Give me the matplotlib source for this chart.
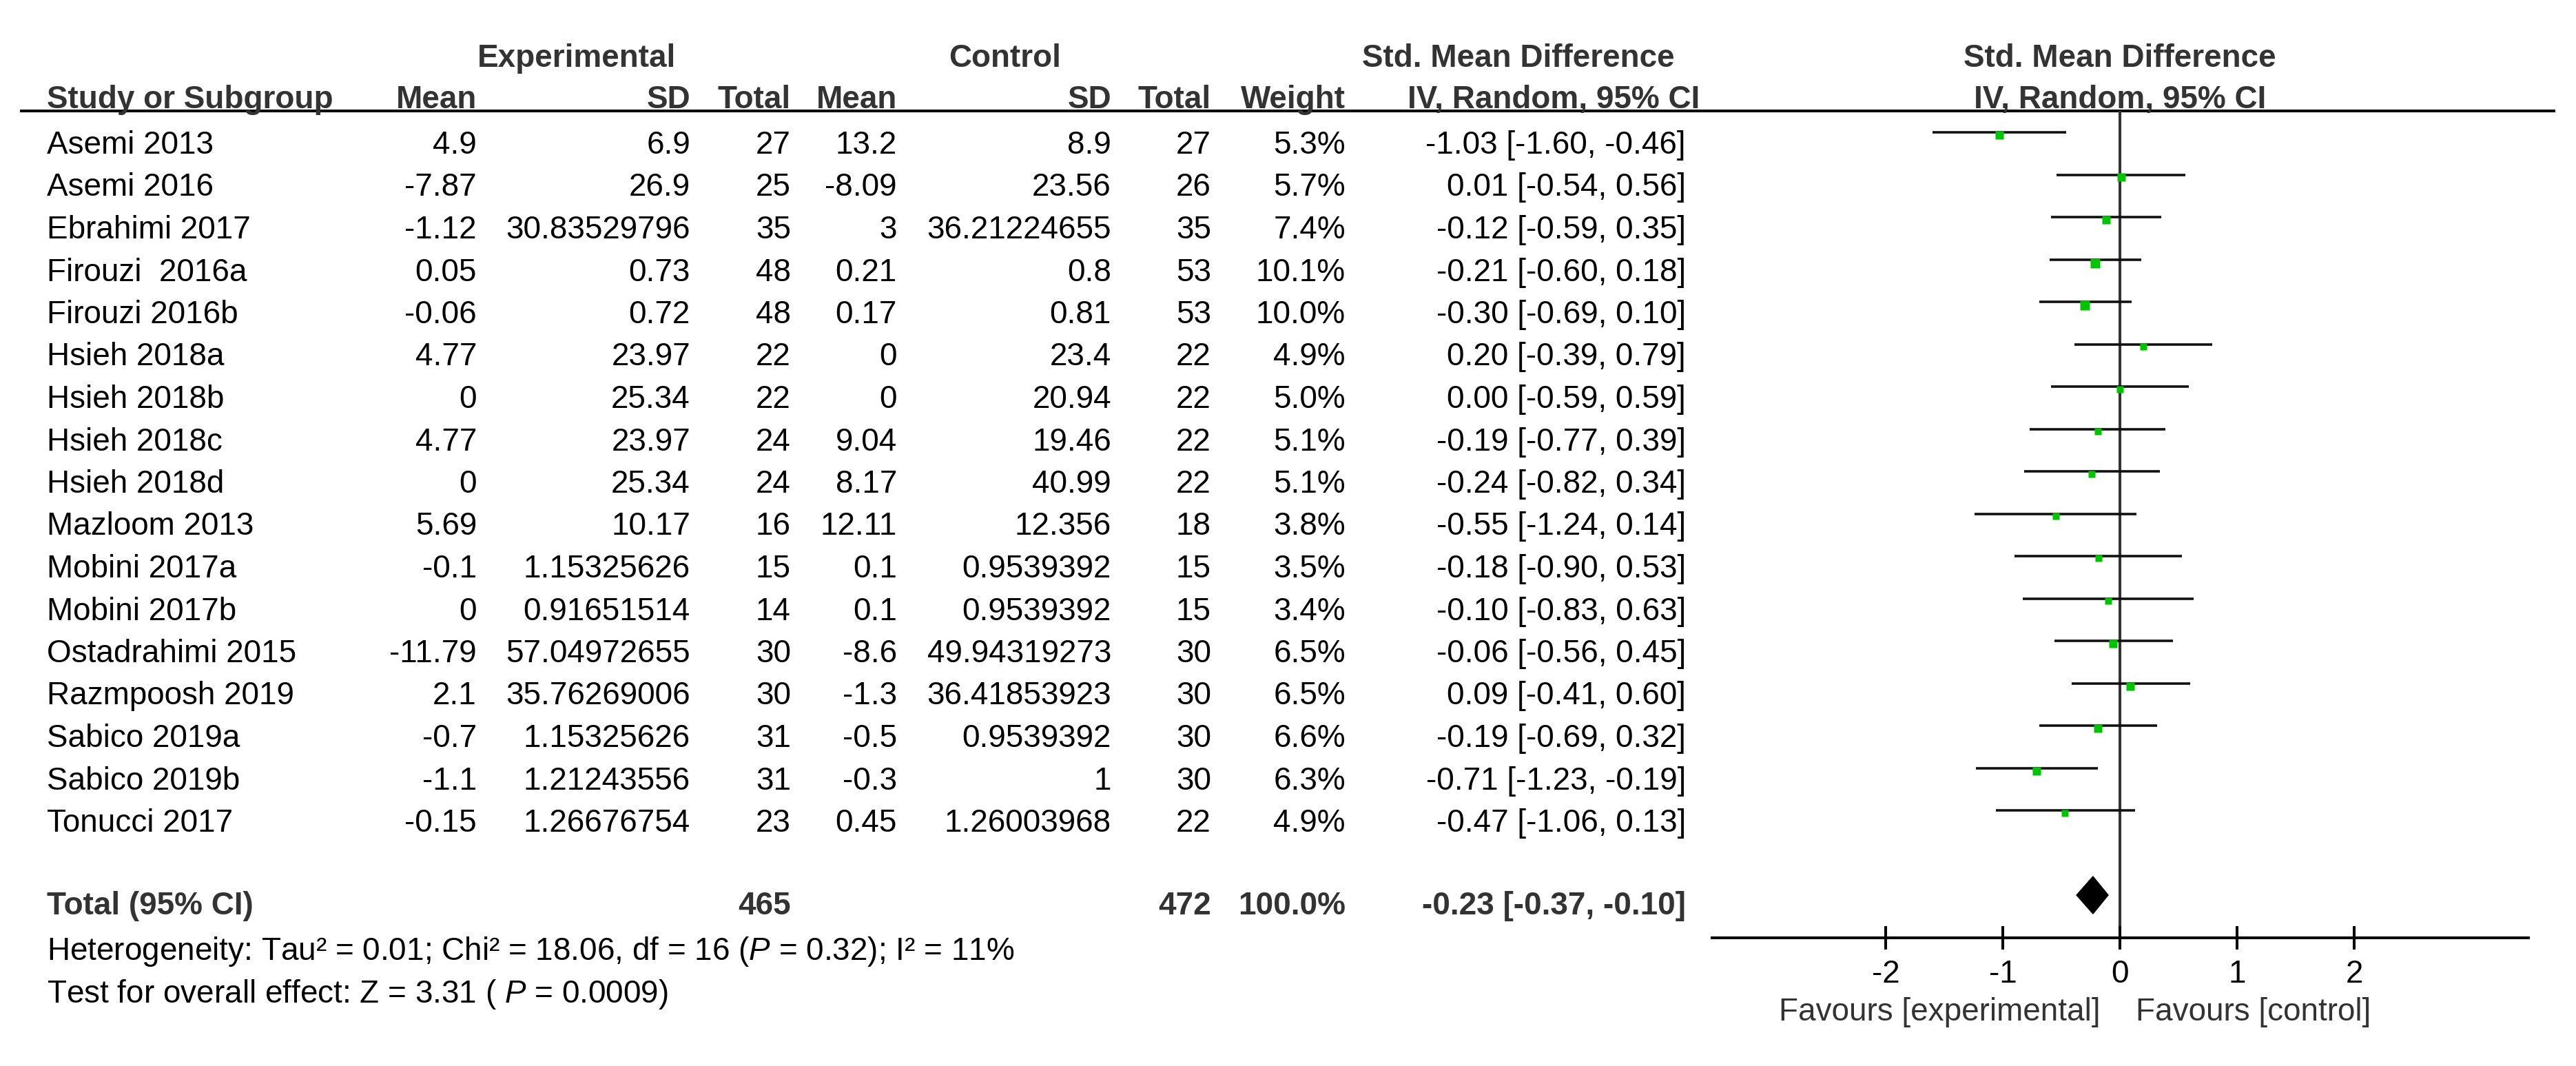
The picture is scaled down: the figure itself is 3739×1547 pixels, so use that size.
import numpy as np
import matplotlib
matplotlib.use("Agg")
import matplotlib.pyplot as plt

plt.rcParams['font.family'] = ['Liberation Sans', 'DejaVu Sans']
plt.rcParams['mathtext.fontset'] = 'custom'
plt.rcParams['mathtext.rm'] = 'Liberation Sans'
plt.rcParams['mathtext.it'] = 'Liberation Sans:italic'

studies = ["Asemi 2013", "Asemi 2016", "Ebrahimi 2017", "Firouzi  2016a", "Firouzi 2016b",
           "Hsieh 2018a", "Hsieh 2018b", "Hsieh 2018c", "Hsieh 2018d", "Mazloom 2013",
           "Mobini 2017a", "Mobini 2017b", "Ostadrahimi 2015", "Razmpoosh 2019",
           "Sabico 2019a", "Sabico 2019b", "Tonucci 2017"]
mean_e = [4.9, -7.87, -1.12, 0.05, -0.06, 4.77, 0, 4.77, 0, 5.69, -0.1, 0, -11.79, 2.1, -0.7, -1.1, -0.15]
sd_e = [6.9, 26.9, 30.83529796, 0.73, 0.72, 23.97, 25.34, 23.97, 25.34, 10.17, 1.15325626,
        0.91651514, 57.04972655, 35.76269006, 1.15325626, 1.21243556, 1.26676754]
n_e = [27, 25, 35, 48, 48, 22, 22, 24, 24, 16, 15, 14, 30, 30, 31, 31, 23]
mean_c = [13.2, -8.09, 3, 0.21, 0.17, 0, 0, 9.04, 8.17, 12.11, 0.1, 0.1, -8.6, -1.3, -0.5, -0.3, 0.45]
sd_c = [8.9, 23.56, 36.21224655, 0.8, 0.81, 23.4, 20.94, 19.46, 40.99, 12.356, 0.9539392,
        0.9539392, 49.94319273, 36.41853923, 0.9539392, 1, 1.26003968]
n_c = [27, 26, 35, 53, 53, 22, 22, 22, 22, 18, 15, 15, 30, 30, 30, 30, 22]
weight = [5.3, 5.7, 7.4, 10.1, 10.0, 4.9, 5.0, 5.1, 5.1, 3.8, 3.5, 3.4, 6.5, 6.5, 6.6, 6.3, 4.9]
smd = [-1.03, 0.01, -0.12, -0.21, -0.30, 0.20, 0.00, -0.19, -0.24, -0.55, -0.18, -0.10, -0.06, 0.09, -0.19, -0.71, -0.47]
ci_lo = [-1.60, -0.54, -0.59, -0.60, -0.69, -0.39, -0.59, -0.77, -0.82, -1.24, -0.90, -0.83, -0.56, -0.41, -0.69, -1.23, -1.06]
ci_hi = [-0.46, 0.56, 0.35, 0.18, 0.10, 0.79, 0.59, 0.39, 0.34, 0.14, 0.53, 0.63, 0.45, 0.60, 0.32, -0.19, 0.13]

total_e = 465
total_c = 472
total_w = 100.0
total_smd = -0.23
total_lo = -0.37
total_hi = -0.10
het_text = r"Heterogeneity: Tau² = 0.01; Chi² = 18.06, df = 16 ($P$ = 0.32); I² = 11%"
eff_text = r"Test for overall effect: Z = 3.31 ( $P$ = 0.0009)"
xticks = [-2, -1, 0, 1, 2]

W, H = 3739, 1547
fig = plt.figure(figsize=(W / 100, H / 100), dpi=100)

# tabla de texto en pixeles
tab = fig.add_axes([0, 0, 1, 1])
tab.set_xlim(0, W)
tab.set_ylim(H, 0)
tab.axis("off")

fs = 33
hdr = "#333333"

def num(v):
    return str(v)

# cabeceras
tab.text(837, 97, "Experimental", ha="center", va="baseline", fontsize=fs, fontweight="bold", color=hdr)
tab.text(1459, 97, "Control", ha="center", va="baseline", fontsize=fs, fontweight="bold", color=hdr)
tab.text(2204, 97, "Std. Mean Difference", ha="center", va="baseline", fontsize=fs, fontweight="bold", color=hdr)
tab.text(3077, 97, "Std. Mean Difference", ha="center", va="baseline", fontsize=fs, fontweight="bold", color=hdr)

cols = [(68, "Study or Subgroup", "left"), (692, "Mean", "right"), (1002, "SD", "right"),
        (1148, "Total", "right"), (1302, "Mean", "right"), (1613, "SD", "right"),
        (1758, "Total", "right"), (1953, "Weight", "right"), (2467, "IV, Random, 95% CI", "right"),
        (3077, "IV, Random, 95% CI", "center")]
for x, s, a in cols:
    tab.text(x, 157, s, ha=a, va="baseline", fontsize=fs, fontweight="bold", color=hdr)

tab.plot([29, 3709], [161, 161], color="black", lw=2.9, solid_capstyle="butt")

# filas de estudios
row0 = 223
step = 61.5
for i in range(len(studies)):
    y = row0 + step * i
    tab.text(68, y, studies[i], ha="left", va="baseline", fontsize=fs)
    tab.text(692, y, num(mean_e[i]), ha="right", va="baseline", fontsize=fs)
    tab.text(1002, y, num(sd_e[i]), ha="right", va="baseline", fontsize=fs)
    tab.text(1148, y, num(n_e[i]), ha="right", va="baseline", fontsize=fs)
    tab.text(1302, y, num(mean_c[i]), ha="right", va="baseline", fontsize=fs)
    tab.text(1613, y, num(sd_c[i]), ha="right", va="baseline", fontsize=fs)
    tab.text(1758, y, num(n_c[i]), ha="right", va="baseline", fontsize=fs)
    tab.text(1953, y, "%.1f%%" % weight[i], ha="right", va="baseline", fontsize=fs)
    tab.text(2447, y, "%.2f [%.2f, %.2f]" % (smd[i], ci_lo[i], ci_hi[i]), ha="right", va="baseline", fontsize=fs)

# total
yt = 1327
tab.text(68, yt, "Total (95% CI)", ha="left", va="baseline", fontsize=fs, fontweight="bold", color=hdr)
tab.text(1148, yt, str(total_e), ha="right", va="baseline", fontsize=fs, fontweight="bold", color=hdr)
tab.text(1758, yt, str(total_c), ha="right", va="baseline", fontsize=fs, fontweight="bold", color=hdr)
tab.text(1953, yt, "%.1f%%" % total_w, ha="right", va="baseline", fontsize=fs, fontweight="bold", color=hdr)
tab.text(2447, yt, "%.2f [%.2f, %.2f]" % (total_smd, total_lo, total_hi), ha="right", va="baseline",
         fontsize=fs, fontweight="bold", color=hdr)
tab.text(68, 1393, het_text, ha="left", va="baseline", fontsize=fs)
tab.text(68, 1455, eff_text, ha="left", va="baseline", fontsize=fs)

tab.text(3049, 1481, "Favours [experimental]", ha="right", va="baseline", fontsize=fs, color=hdr)
tab.text(3100, 1481, "Favours [control]", ha="left", va="baseline", fontsize=fs, color=hdr)

# grafico de bosque
x0, x1 = 2485, 3670
ytop, ybot = 161, 1361
ax = fig.add_axes([x0 / W, (H - ybot) / H, (x1 - x0) / W, (ybot - ytop) / H])
ax.patch.set_alpha(0)
ax.set_xlim((x0 - 3077) / 170.0, (x1 - 3077) / 170.0)
ax.set_ylim((ybot - 192) / step, (ytop - 192) / step)
for s in ["top", "left", "right"]:
    ax.spines[s].set_visible(False)
ax.spines["bottom"].set_linewidth(2.9)
ax.set_yticks([])
ax.set_xticks(xticks)
ax.set_xticklabels([str(t) for t in xticks])
ax.tick_params(axis="x", direction="inout", length=25, width=2.9, labelsize=fs, pad=10)

ax.axvline(0, color="#333333", lw=2.9, zorder=1)

rows = np.arange(len(studies))
ax.hlines(rows, ci_lo, ci_hi, color="#111111", lw=2.6, zorder=2)
# lado del cuadrado en pixeles segun el peso
side = 7.4 + 0.69 * np.array(weight)
for i in range(len(studies)):
    dy = (side[i] / 2 - 1.8) / step
    ax.plot(smd[i], rows[i] + dy, marker="s", ms=side[i] / 1.389, color="#00C400", mec="none", zorder=3)

yd = len(studies) + 1
ax.fill([total_lo, total_smd, total_hi, total_smd], [yd, yd - 0.44, yd, yd + 0.44],
        color="black", zorder=3)

plt.savefig("out.png", dpi=100)
